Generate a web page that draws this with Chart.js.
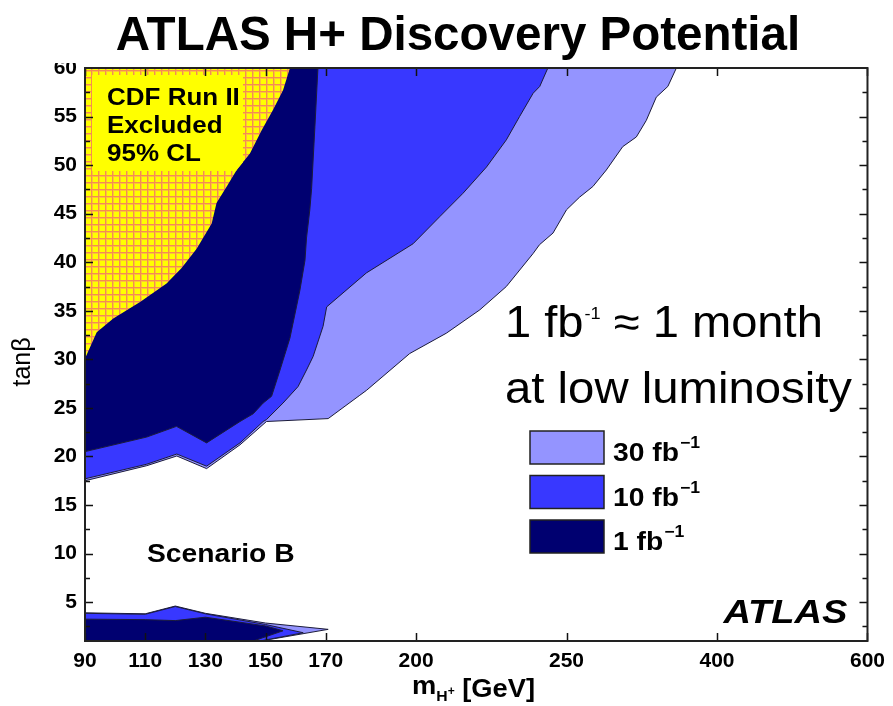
<!DOCTYPE html>
<html>
<head>
<meta charset="utf-8">
<title>ATLAS H+ Discovery Potential</title>
<script src="https://cdn.jsdelivr.net/npm/chart.js@4.4.1/dist/chart.umd.min.js"></script>
<style>
  html, body { margin: 0; padding: 0; background: #fff; }
  #wrap { width: 893px; height: 706px; }
</style>
</head>
<body>
<div id="wrap"><canvas id="chart" width="893" height="706"></canvas></div>
<script>
// ---- axis ticks ----
const xTickMasses = [90, 110, 130, 150, 170, 200, 250, 400, 600];   // m_H+ [GeV]
const yTickValues = [5, 10, 15, 20, 25, 30, 35, 40, 45, 50, 55, 60]; // tan(beta)

// ---- contour regions, points are [m_H+ (GeV), tan(beta)] ----
const cdfExcluded = [
  [90, 60], [158.1, 60], [155.8, 57.7], [152.5, 55.7], [148.7, 53.6], [144.8, 51.2],
  [140.4, 49.5], [137.1, 47.8], [133.7, 46.1], [132.1, 44.0], [127.1, 41.4],
  [122.1, 39.4], [117.1, 37.8], [108.3, 35.9], [99.4, 34.2], [93.9, 32.8], [90, 30.1]
];

const high1fb = [
  [90, 60], [167.4, 60], [166.4, 54.0], [165.3, 47.6], [164.7, 45.4], [163.6, 42.5],
  [163.1, 40.2], [161.4, 37.1], [158.1, 32.2], [154.8, 28.9], [152.0, 26.2],
  [149.2, 25.5], [145.9, 24.4], [141.5, 23.6], [130.4, 21.4], [120.4, 23.1],
  [110.5, 22.0], [90, 20.5]
];
const high10fb = [
  [90, 60], [243.8, 60], [241.1, 58.1], [238.9, 57.4], [234.4, 55.0], [230.0, 52.6],
  [223.4, 49.8], [215.6, 47.1], [207.9, 44.7], [199.0, 41.9], [183.5, 38.9],
  [170.3, 35.4], [169.1, 33.4], [165.8, 30.3], [163.6, 28.9], [160.8, 27.2],
  [155.8, 25.5], [150.3, 23.8], [149.2, 23.6], [141.5, 21.4], [130.4, 19.0],
  [120.5, 20.25], [110.5, 19.2], [90, 17.7]
];
const high30fb = [
  [90, 60], [359.5, 60], [351.0, 58.1], [339.5, 57.0], [329.5, 54.6], [319.6, 52.9],
  [306.0, 51.9], [289.7, 49.5], [276.3, 47.8], [263.0, 46.7], [250.0, 45.4],
  [245.5, 43.0], [241.0, 41.8], [238.9, 40.9], [230.0, 37.5], [221.2, 35.1],
  [210.1, 32.7], [197.9, 30.6], [183.5, 26.8], [181.3, 26.3], [170.8, 23.9],
  [150.3, 23.6], [141.5, 21.2], [130.4, 18.75], [120.5, 20.05], [110.5, 19.05],
  [90, 17.5]
];

const low1fb = [
  [90, 1], [90, 3.25], [110, 3.2], [120, 3.1], [130, 3.45], [150, 2.55],
  [155.8, 2.05], [145.9, 1.0]
];
const low10fb = [
  [90, 1], [90, 3.85], [110, 3.75], [120, 4.55], [130, 3.8], [150, 2.7],
  [162.5, 1.85], [148.1, 1.0]
];
const low30fb = [
  [90, 1], [90, 3.9], [110, 3.8], [120, 4.6], [130, 3.85], [150, 2.85],
  [170.8, 2.2], [150.3, 1.1], [149, 1.0]
];

// ---- legend ----
const legendLumis = ['30', '10', '1'];

const LIGHT = '#9494FF';
const MEDIUM = '#3838FF';
const DARK = '#000070';
const EDGE = '#1c1c3a';
const legendColors = [LIGHT, MEDIUM, DARK];

const FONT = "'Liberation Sans', Arial, Helvetica, sans-serif";

// Mass axis: linear from 90 to 250 GeV, compressed above.
function massToPos(m) {
  if (m <= 250) return (m - 90) / 20;
  if (m <= 400) return 8 + (m - 250) / 60;
  return 10.5 + (m - 400) / 80;
}
function posToMass(u) {
  if (u <= 8) return 90 + 20 * u;
  if (u <= 10.5) return 250 + 60 * (u - 8);
  return 400 + 80 * (u - 10.5);
}
const toPoints = arr => arr.map(([m, t]) => ({ x: massToPos(m), y: t }));

// CDF exclusion hatch: yellow with a fine orange grid
function cdfPattern() {
  const c = document.createElement('canvas');
  c.width = 7; c.height = 7;
  const g = c.getContext('2d');
  g.fillStyle = '#FFFF00';
  g.fillRect(0, 0, 7, 7);
  g.fillStyle = '#FBC43A';
  g.fillRect(1, 0, 1, 7);
  g.fillRect(0, 1, 7, 1);
  g.fillStyle = '#F58C52';
  g.fillRect(0, 0, 1, 7);
  g.fillRect(0, 0, 7, 1);
  return g.createPattern(c, 'repeat');
}

function region(points, fillStyle, edge, order) {
  return {
    data: toPoints(points),
    backgroundColor: fillStyle,
    borderColor: edge,
    borderWidth: 1,
    fill: 'shape',
    tension: 0,
    pointRadius: 0,
    pointHoverRadius: 0,
    order: order
  };
}

function stretchText(ctx, text, x, y, font, sx, align) {
  ctx.font = font;
  const w = ctx.measureText(text).width * sx;
  const x0 = align === 'center' ? x - w / 2 : (align === 'right' ? x - w : x);
  ctx.save();
  ctx.translate(x0, y);
  ctx.scale(sx, 1);
  ctx.textAlign = 'left';
  ctx.textBaseline = 'alphabetic';
  ctx.fillText(text, 0, 0);
  ctx.restore();
  return x0 + w;
}

// Frame, inward ticks, in-plot labels and legend
const decorations = {
  id: 'decorations',
  afterDatasetsDraw(chart) {
    const ctx = chart.ctx;
    const a = chart.chartArea;
    const xs = chart.scales.x, ys = chart.scales.y;
    ctx.save();

    // plain box behind the CDF label, kept inside the excluded region
    const cdfMeta = chart.getDatasetMeta(0);
    ctx.save();
    ctx.beginPath();
    cdfMeta.data.forEach((p, i) => i ? ctx.lineTo(p.x, p.y) : ctx.moveTo(p.x, p.y));
    ctx.closePath();
    ctx.clip();
    ctx.fillStyle = '#FFFF00';
    ctx.fillRect(a.left + 7, a.top + 7, 151, 96);
    ctx.restore();

    ctx.fillStyle = '#000';
    const cdfFont = `bold 23px ${FONT}`;
    stretchText(ctx, 'CDF Run II', a.left + 22, a.top + 37, cdfFont, 1.13);
    stretchText(ctx, 'Excluded', a.left + 22, a.top + 65, cdfFont, 1.13);
    stretchText(ctx, '95% CL', a.left + 22, a.top + 93, cdfFont, 1.13);

    // luminosity note
    let xp = stretchText(ctx, '1 fb', a.left + 420, a.top + 269, `44px ${FONT}`, 1.07);
    xp = stretchText(ctx, '-1', xp + 1, a.top + 251, `17px ${FONT}`, 1.07);
    stretchText(ctx, ' \u2248 1 month', xp, a.top + 269, `44px ${FONT}`, 1.07);
    stretchText(ctx, 'at low luminosity', a.left + 420, a.top + 335, `44px ${FONT}`, 1.075);

    // legend
    legendLumis.forEach((lumi, i) => {
      const top = a.top + 363 + i * 44.5;
      ctx.fillStyle = legendColors[i];
      ctx.fillRect(a.left + 445, top, 74, 33);
      ctx.strokeStyle = '#222';
      ctx.lineWidth = 1.5;
      ctx.strokeRect(a.left + 445, top, 74, 33);
      ctx.fillStyle = '#000';
      let lx = stretchText(ctx, lumi + ' fb', a.left + 528, top + 30, `bold 25px ${FONT}`, 1.13);
      stretchText(ctx, '\u22121', lx + 1, top + 17, `bold 16px ${FONT}`, 1.1);
    });

    // scenario and experiment labels
    stretchText(ctx, 'Scenario B', a.left + 62, a.bottom - 79, `bold 25px ${FONT}`, 1.13);
    stretchText(ctx, 'ATLAS', a.right - 20, a.bottom - 18, `italic bold 34px ${FONT}`, 1.12, 'right');

    // inward ticks
    ctx.strokeStyle = '#111';
    ctx.lineWidth = 1.5;
    ctx.beginPath();
    xTickMasses.forEach(m => {
      const px = Math.round(xs.getPixelForValue(massToPos(m))) + 0.5;
      ctx.moveTo(px, a.bottom); ctx.lineTo(px, a.bottom - 8);
      ctx.moveTo(px, a.top); ctx.lineTo(px, a.top + 8);
    });
    for (let v = 2.5; v < 60; v += 2.5) {
      const py = Math.round(ys.getPixelForValue(v)) + 0.5;
      const len = v % 5 === 0 ? 8 : 5;
      ctx.moveTo(a.left, py); ctx.lineTo(a.left + len, py);
      ctx.moveTo(a.right, py); ctx.lineTo(a.right - len, py);
    }
    ctx.stroke();

    // frame
    ctx.lineWidth = 2;
    ctx.strokeStyle = '#222';
    ctx.strokeRect(a.left, a.top, a.right - a.left, a.bottom - a.top);
    ctx.restore();
  },
  afterDraw(chart) {
    const ctx = chart.ctx;
    ctx.save();
    // title band
    ctx.fillStyle = '#fff';
    ctx.fillRect(0, 0, chart.width, 63);
    ctx.fillStyle = '#000';
    stretchText(ctx, 'ATLAS H+ Discovery Potential', 458, 50, `bold 48px ${FONT}`, 0.99, 'center');

    // x axis title: m_{H+} [GeV]
    let x = stretchText(ctx, 'm', 412, 694, `bold 26px ${FONT}`, 1.05);
    x = stretchText(ctx, 'H', x, 701, `bold 15px ${FONT}`, 1.05);
    x = stretchText(ctx, '+', x, 695, `bold 12px ${FONT}`, 1.0);
    stretchText(ctx, ' [GeV]', x, 697, `bold 26px ${FONT}`, 1.05);

    // y axis title: tan(beta)
    ctx.translate(23, 362);
    ctx.rotate(-Math.PI / 2);
    ctx.font = `25px ${FONT}`;
    ctx.textAlign = 'center';
    ctx.textBaseline = 'middle';
    ctx.fillText('tan\u03B2', 0, 0);
    ctx.restore();
  }
};

const chart = new Chart(document.getElementById('chart'), {
  type: 'line',
  data: {
    datasets: [
      region(cdfExcluded, cdfPattern(), 'rgba(0,0,0,0)', 0),
      region(high1fb, DARK, EDGE, 1),
      region(low1fb, DARK, EDGE, 1),
      region(high10fb, MEDIUM, EDGE, 2),
      region(low10fb, MEDIUM, EDGE, 2),
      region(high30fb, LIGHT, EDGE, 3),
      region(low30fb, LIGHT, EDGE, 3)
    ]
  },
  options: {
    responsive: false,
    animation: false,
    devicePixelRatio: 1,
    events: [],
    layout: { padding: { top: 68, right: 25, bottom: 0, left: 0 } },
    plugins: { legend: { display: false }, tooltip: { enabled: false }, title: { display: false } },
    scales: {
      x: {
        type: 'linear',
        min: 0,
        max: massToPos(600),
        grid: { display: false, drawTicks: false },
        border: { display: false },
        afterBuildTicks: s => { s.ticks = xTickMasses.map(m => ({ value: massToPos(m) })); },
        afterFit: s => { s.height = 65; },
        ticks: {
          autoSkip: false,
          maxRotation: 0,
          padding: 8,
          color: '#000',
          font: { family: FONT, size: 21, weight: 'bold' },
          callback: v => String(Math.round(posToMass(v)))
        }
      },
      y: {
        type: 'linear',
        min: 1,
        max: 60,
        grid: { display: false, drawTicks: false },
        border: { display: false },
        afterBuildTicks: s => { s.ticks = yTickValues.map(v => ({ value: v })); },
        afterFit: s => { s.width = 85; },
        ticks: {
          autoSkip: false,
          padding: 8,
          color: '#000',
          font: { family: FONT, size: 21, weight: 'bold' }
        }
      }
    }
  },
  plugins: [decorations]
});
</script>
</body>
</html>
